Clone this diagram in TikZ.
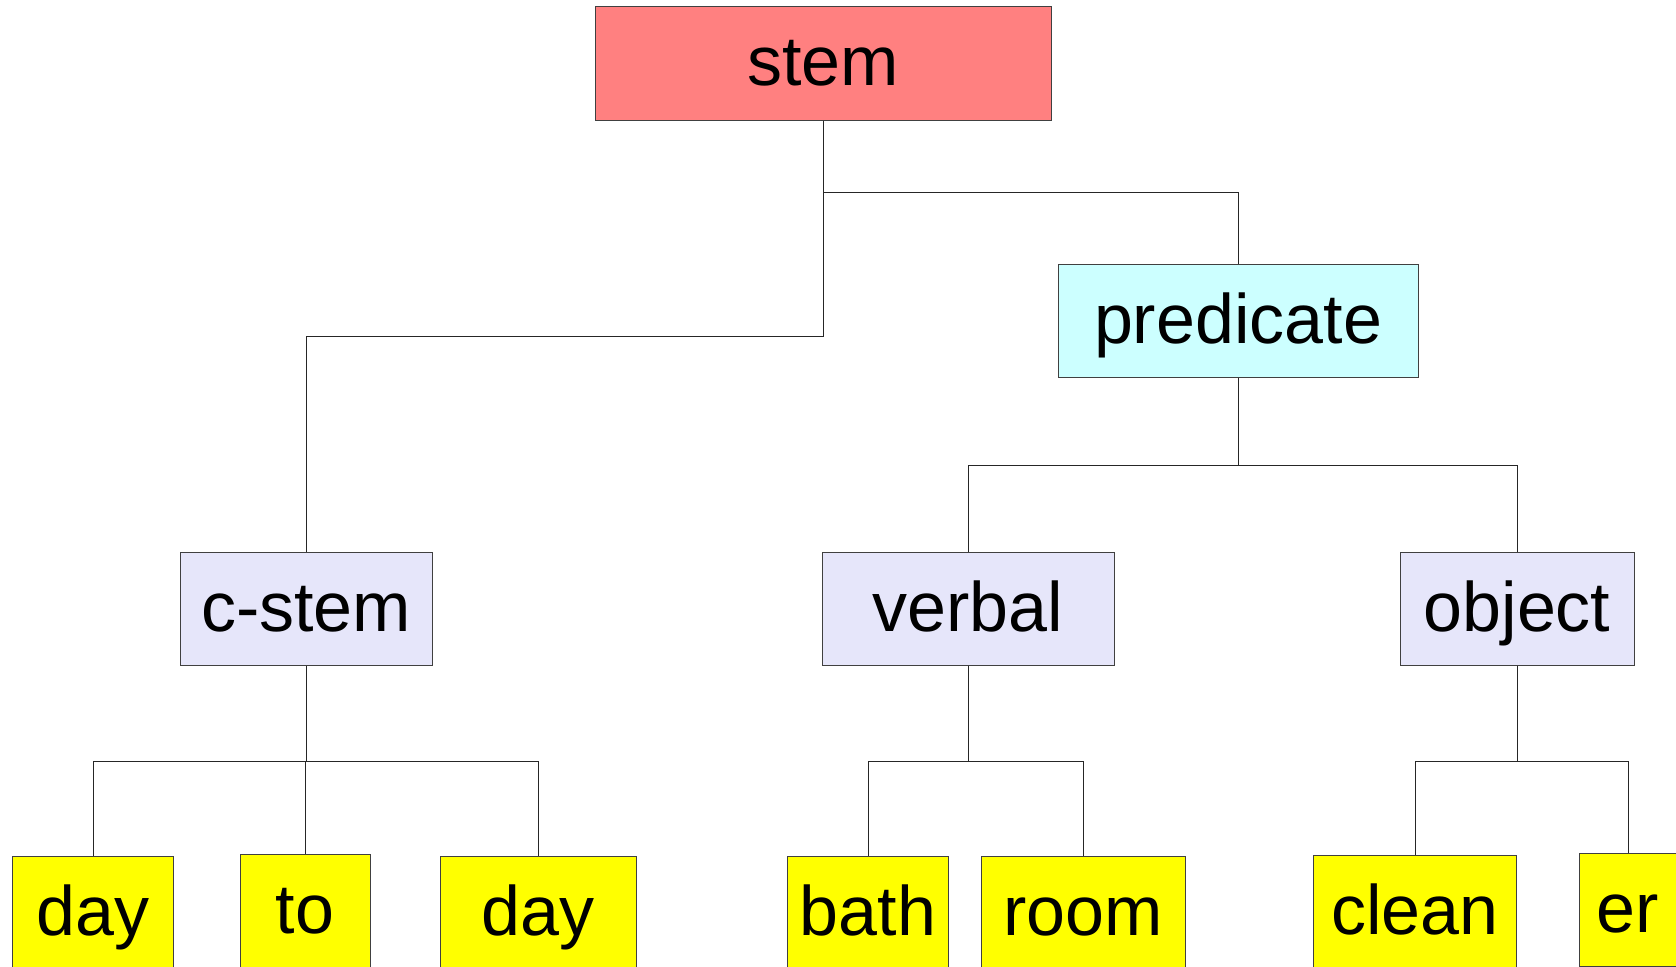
\documentclass[tikz,border=0pt]{standalone}
\usepackage{fontspec}
\setmainfont{Liberation Sans}
\definecolor{stemred}{HTML}{FF8080}
\definecolor{predcyan}{HTML}{CCFFFF}
\definecolor{midlav}{HTML}{E6E6FA}
\definecolor{leafyellow}{HTML}{FFFF00}
\begin{document}
\begin{tikzpicture}[x=0.5pt,y=-0.5pt,
  box/.style={draw=black!75, line width=0.5pt, inner sep=0pt,
    font=\fontsize{35}{40}\selectfont, text height=22.5pt, text depth=0pt,
    minimum height=56.5pt},
  link/.style={draw=black!85, line width=0.5pt}]
\fill[white] (0,0) rectangle (1676,966);
\clip (0,0) rectangle (1676,966);
% nodes
\node[box, fill=stemred, minimum width=228pt, minimum height=57pt] (stem) at (823,63) {stem};
\node[box, fill=predcyan, minimum width=180pt] (pred) at (1238,320.5) {predicate};
\node[box, fill=midlav, minimum width=126pt] (cstem) at (306,608.5) {c-stem};
\node[box, fill=midlav, minimum width=146pt] (verbal) at (968,608.5) {verbal};
\node[box, fill=midlav, minimum width=117pt] (object) at (1517,608.5) {object};
\node[box, fill=leafyellow, minimum width=80.5pt] (day1) at (93,912.5) {day};
\node[box, fill=leafyellow, minimum width=65pt] (to) at (305,910.5) {to};
\node[box, fill=leafyellow, minimum width=98pt] (day2) at (538,912.5) {day};
\node[box, fill=leafyellow, minimum width=80.5pt] (bath) at (868,912.5) {bath};
\node[box, fill=leafyellow, minimum width=102pt] (room) at (1083,912.5) {room};
\node[box, fill=leafyellow, minimum width=101.5pt] (clean) at (1415,911.5) {clean};
\node[box, fill=leafyellow, minimum width=49pt] (er) at (1628,909.5) {er};
% junctions
\coordinate (j0) at (823,192);
\coordinate (j0b) at (823,336);
\coordinate (jp) at (1238,465);
\coordinate (jc) at (306,761);
\coordinate (jv) at (968,761);
\coordinate (jo) at (1517,761);
% connectors
\draw[link] (stem.south) -- (j0) -| (pred.north);
\draw[link] (j0) -- (j0b) -| (cstem.north);
\draw[link] (pred.south) -- (jp);
\draw[link] (verbal.north) |- (jp) -| (object.north);
\draw[link] (cstem.south) -- (jc);
\draw[link] (day1.north) |- (jc) -| (day2.north);
\draw[link] (to.north) -- (to.north |- jc);
\draw[link] (verbal.south) -- (jv);
\draw[link] (bath.north) |- (jv) -| (room.north);
\draw[link] (object.south) -- (jo);
\draw[link] (clean.north) |- (jo) -| (er.north);
\end{tikzpicture}
\end{document}
